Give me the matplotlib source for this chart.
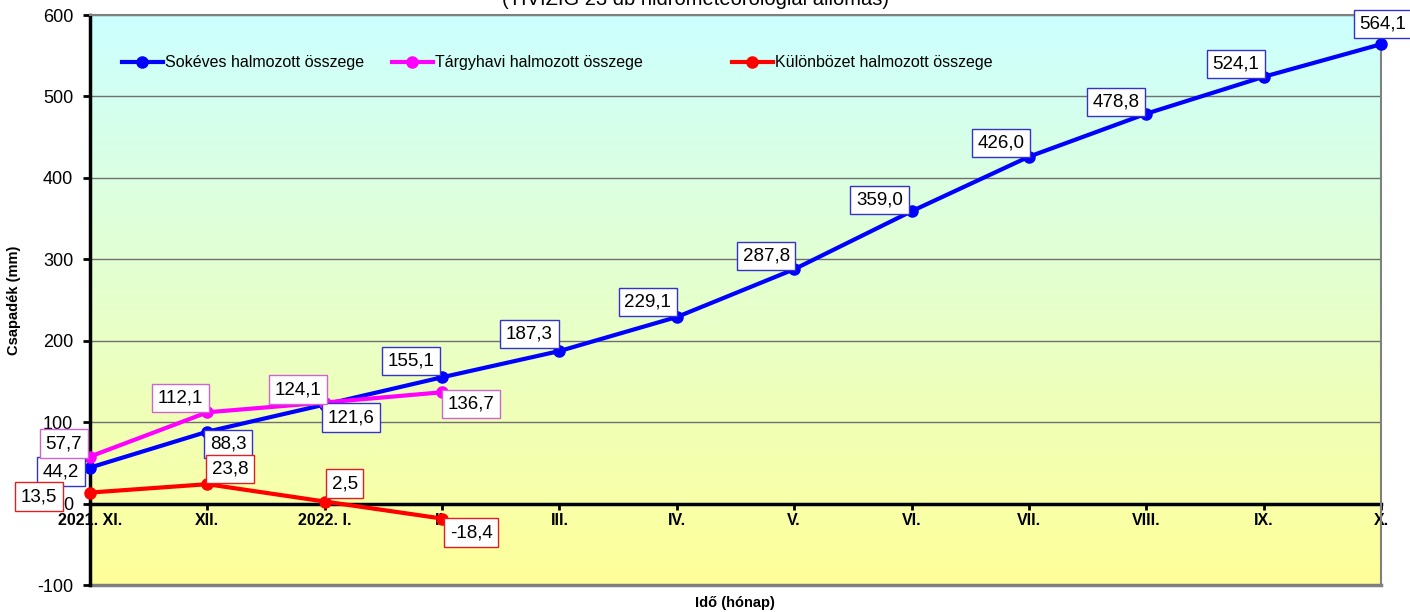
import numpy as np
import matplotlib
matplotlib.use("Agg")
import matplotlib.pyplot as plt
from matplotlib.lines import Line2D
from matplotlib.colors import LinearSegmentedColormap

plt.rcParams['font.family'] = ['Liberation Sans', 'DejaVu Sans']
plt.rcParams['axes.unicode_minus'] = False

# data
months = ["2021. XI.", "XII.", "2022. I.", "II.", "III.", "IV.", "V.",
          "VI.", "VII.", "VIII.", "IX.", "X."]
sokeves = [44.2, 88.3, 121.6, 155.1, 187.3, 229.1, 287.8, 359.0, 426.0, 478.8, 524.1, 564.1]
targyhavi = [57.7, 112.1, 124.1, 136.7]
kulonbozet = [13.5, 23.8, 2.5, -18.4]

# label offsets in pixels (dx, dy up)
off_sok = [(-29, -4), (21, -12), (26, -13), (-31, 16), (-30, 17), (-29, 15),
           (-28, 13), (-32, 11), (-28, 14), (-30, 12), (-28, 13), (2, 20)]
off_targy = [(-26, 13), (-27, 14), (-27, 13), (29, -12)]
off_kul = [(-51, -4), (23, 15), (20, 18), (29, -14)]

W, H = 1410, 612
fig = plt.figure(figsize=(W / 100, H / 100), dpi=100)
ax = fig.add_axes([90 / W, 1 - 585 / H, (1381 - 90) / W, (585 - 15) / H])

# gradient background
cmap = LinearSegmentedColormap.from_list("bg", ["#FFFF99", "#E6FFCC", "#CCFFFF"])
grad = np.linspace(0, 1, 256).reshape(-1, 1)
ax.imshow(grad, cmap=cmap, aspect='auto', origin='lower',
          extent=[0, len(months) - 1, -100, 600], zorder=0)

# spine position first (it resets the ticks)
ax.spines['bottom'].set_position(('data', 0))
ax.spines['bottom'].set_linewidth(2.5)
ax.spines['bottom'].set_zorder(2)
ax.spines['left'].set_linewidth(2.5)
for s in ('top', 'right'):
    ax.spines[s].set_color('#808080')
    ax.spines[s].set_linewidth(1.5)

ax.set_xlim(0, len(months) - 1)
ax.set_ylim(-100, 600)
ax.set_yticks(range(-100, 601, 100))
ax.set_xticks(range(len(months)))
ax.set_xticklabels(months, fontweight='bold', fontsize=11.5)
ax.grid(axis='y', color='#707070', lw=1, zorder=1)
ax.axhline(-100, color='#808080', lw=2.5, zorder=1, clip_on=False)
ax.tick_params(axis='y', direction='out', length=5, width=2, labelsize=13, pad=7)
ax.tick_params(axis='x', direction='out', length=4, width=2, pad=3)

x = np.arange(len(months))
series = [
    (sokeves, '#0000FF', '#3333CC', off_sok, "Sokéves halmozott összege"),
    (targyhavi, '#FF00FF', '#CC66CC', off_targy, "Tárgyhavi halmozott összege"),
    (kulonbozet, '#FF0000', '#E02020', off_kul, "Különbözet halmozott összege"),
]
for vals, col, ecol, offs, name in series:
    xs = x[:len(vals)]
    ax.plot(xs, vals, color=col, lw=3, marker='o', ms=8, zorder=3, clip_on=False)
    for xi, v, (dx, dy) in zip(xs, vals, offs):
        ax.annotate(f"{v:.1f}".replace('.', ','), (xi, v), xytext=(dx, dy),
                    textcoords='offset pixels', ha='center', va='center',
                    fontsize=13.5, zorder=5, annotation_clip=False,
                    bbox=dict(boxstyle='square,pad=0.3', fc='white', ec=ecol, lw=1))

# legends
leg_x = [123, 393, 733]
legends = []
for (vals, col, ecol, offs, name), lx in zip(series, leg_x):
    h = Line2D([0], [0], color=col, lw=3, marker='o', ms=8)
    leg = ax.legend([h], [name], loc='center left', frameon=False,
                    bbox_to_anchor=((lx - 90) / (1381 - 90) - 0.006, (585 - 63) / 570),
                    handlelength=2.6, handletextpad=0.1, fontsize=11.5, borderaxespad=0)
    legends.append(leg)
for leg in legends[:-1]:
    ax.add_artist(leg)

ax.set_ylabel("Csapadék (mm)", fontweight='bold', fontsize=10.5)
ax.yaxis.set_label_coords(-(90 - 21) / (1381 - 90), 0.5)
fig.text(735 / W, 1 - 603 / H, "Idő (hónap)", ha='center', va='center',
         fontweight='bold', fontsize=10.5)
fig.text(696 / W, 1 - 5 / H, "(TIVIZIG 23 db hidrometeorológiai állomás)",
         ha='center', va='baseline', fontsize=14.5)

fig.savefig("out.png", dpi=100)
